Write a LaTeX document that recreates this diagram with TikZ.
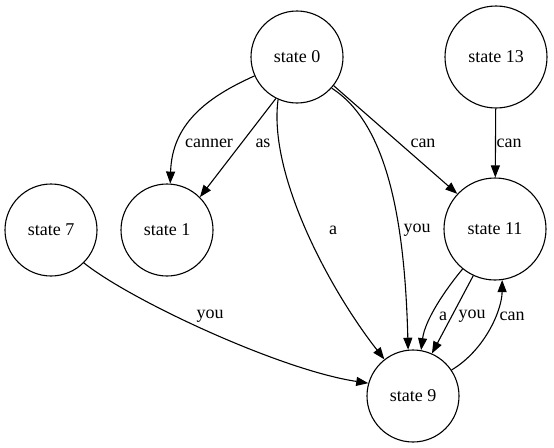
\documentclass[tikz,border=0pt]{standalone}
\usepackage{fontspec}
\setmainfont{Liberation Serif}
\usetikzlibrary{arrows.meta}
\begin{document}
\begin{tikzpicture}[x=1pt,y=-1pt,
  state/.style={draw,circle,line width=1.1pt,inner sep=0pt,minimum size=92pt,font=\fontsize{18}{20}\selectfont},
  widestate/.style={state,minimum size=102pt},
  trans/.style={line width=1.1pt,-{Triangle[length=12pt,width=9pt]}},
  lbl/.style={font=\fontsize{18}{20}\selectfont,inner sep=0pt}]
\useasboundingbox (0,0) rectangle (554,447);
% states
\node[state] (s0) at (297,57) {state 0};
\node[widestate] (s13) at (496,57) {state 13};
\node[state] (s7) at (51,230) {state 7};
\node[state] (s1) at (167,230) {state 1};
\node[widestate] (s11) at (495,229) {state 11};
\node[state] (s9) at (413,396) {state 9};
% transitions
\draw[trans] (s0.204) .. controls (205,98) and (172,125) .. (s1.86);
\draw[trans] (s0.243) -- (s1.45);
\draw[trans] (s0.246) .. controls (268,175) and (330,290) .. (s9.128);
\draw[trans] (s0.318) .. controls (390,125) and (405,230) .. (s9.96);
\draw[trans] (s0.322) -- (s11.137);
\draw[trans] (s13) -- (s11);
\draw[trans] (s7.315) .. controls (130,300) and (280,370) .. (s9.164);
\draw[trans] (s11.231) .. controls (445,290) and (425,320) .. (s9.80);
\draw[trans] (s11.245) -- (s9.66);
\draw[trans] (s9.34) .. controls (485,350) and (502,310) .. (s11.278);
% transition labels
\node[lbl] (l1) at (209,143) {canner};
\node[lbl] (l2) at (263,143) {as};
\node[lbl] (l3) at (423,143) {can};
\node[lbl] (l4) at (509,143) {can};
\node[lbl] (l5) at (333,230) {a};
\node[lbl] (l6) at (417,230) {you};
\node[lbl] (l7) at (210,316) {you};
\node[lbl] (l8) at (443,316) {a};
\node[lbl] (l9) at (472,316) {you};
\node[lbl] (l10) at (512,316) {can};
\end{tikzpicture}
\end{document}
